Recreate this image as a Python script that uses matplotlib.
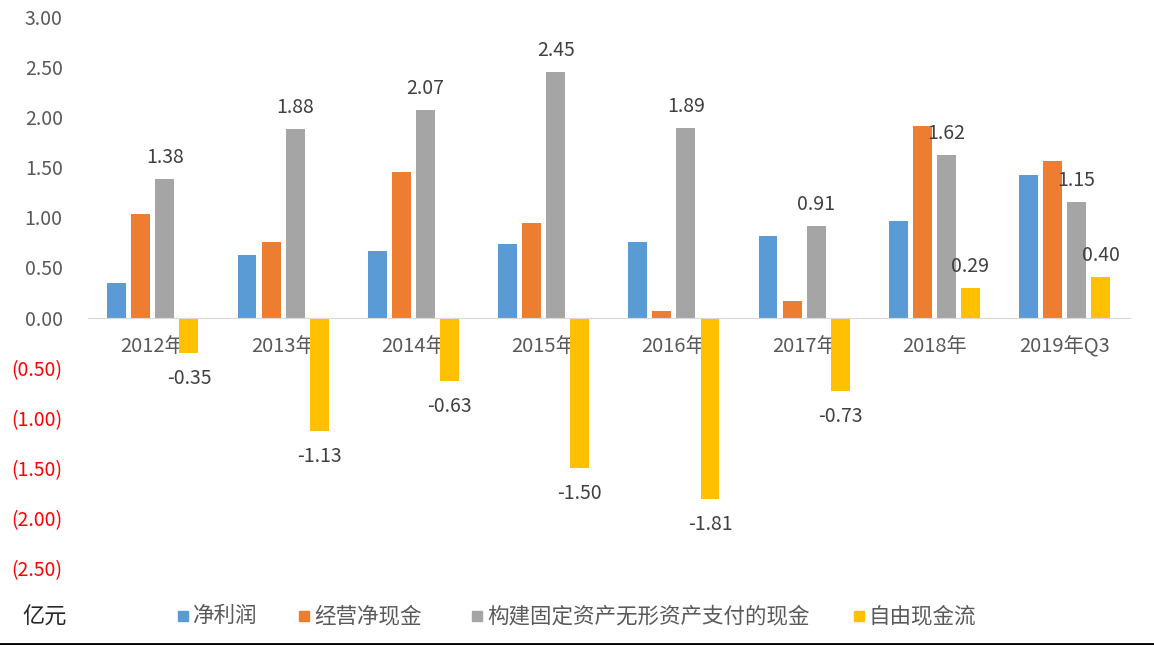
import numpy as np
import matplotlib.pyplot as plt
from matplotlib.lines import Line2D
from matplotlib.ticker import FuncFormatter

plt.rcParams['font.family'] = ['Noto Sans CJK SC', 'DejaVu Sans']

# chart data (亿元)
categories = ['2012年', '2013年', '2014年', '2015年', '2016年', '2017年', '2018年', '2019年Q3']
series_names = ['净利润', '经营净现金', '构建固定资产无形资产支付的现金', '自由现金流']
net_profit = [0.34, 0.62, 0.66, 0.73, 0.75, 0.81, 0.96, 1.42]
op_cash = [1.03, 0.75, 1.45, 0.94, 0.07, 0.17, 1.91, 1.56]
capex = [1.38, 1.88, 2.07, 2.45, 1.89, 0.91, 1.62, 1.15]
free_cash = [-0.35, -1.13, -0.63, -1.50, -1.81, -0.73, 0.29, 0.40]
y_ticks = [3.0, 2.5, 2.0, 1.5, 1.0, 0.5, 0.0, -0.5, -1.0, -1.5, -2.0, -2.5]

colors = ['#5B9BD5', '#ED7D31', '#A5A5A5', '#FFC000']
text_gray = '#595959'

fig = plt.figure(figsize=(11.54, 6.45), dpi=100)
ax = fig.add_axes([0.076, 0.119, 0.903, 0.855])

x = np.arange(len(categories))
width = 0.145
offsets = [-0.277, -0.092, 0.092, 0.277]
all_series = [net_profit, op_cash, capex, free_cash]

for vals, off, col, name in zip(all_series, offsets, colors, series_names):
    ax.bar(x + off, vals, width, color=col, label=name, zorder=3)

# data labels only on capex and free cash flow
for vals, off in [(capex, offsets[2]), (free_cash, offsets[3])]:
    for xi, v in zip(x, vals):
        if v >= 0:
            ax.annotate(f'{v:.2f}', xy=(xi + off, v), xytext=(0, 8),
                        textcoords='offset points', ha='center', va='bottom',
                        fontsize=14, color='#404040')
        else:
            ax.annotate(f'{v:.2f}', xy=(xi + off, v), xytext=(0, -11),
                        textcoords='offset points', ha='center', va='top',
                        fontsize=14, color='#404040')

ax.set_xlim(-0.5, len(categories) - 0.5)
ax.set_ylim(-2.5, 3.0)
ax.set_yticks(y_ticks)


def fmt(v, pos):
    if v < 0:
        return f'({abs(v):.2f})'
    return f'{v:.2f}'


ax.yaxis.set_major_formatter(FuncFormatter(fmt))
for lbl, v in zip(ax.get_yticklabels(), y_ticks):
    lbl.set_color('#FF0000' if v < 0 else text_gray)
ax.tick_params(axis='y', length=0, labelsize=14, pad=18)

ax.set_xticks(x)
ax.set_xticklabels(categories)
ax.tick_params(axis='x', length=0, labelsize=14.5, labelcolor=text_gray, pad=13)
ax.spines['bottom'].set_position(('data', 0))
ax.spines['bottom'].set_color('#D9D9D9')
ax.spines['bottom'].set_zorder(4)
for s in ['left', 'right', 'top']:
    ax.spines[s].set_visible(False)

fig.text(0.019, 0.043, '亿元', fontsize=16, color='#262626', va='center')

# legend items laid out like the original
W = 1154.0
legend_x = [178, 299, 472, 854]
legend_y = 0.045
for px, name, col in zip(legend_x, series_names, colors):
    fig.add_artist(Line2D([(px + 4.5) / W], [legend_y], marker='s', markersize=7,
                          markerfacecolor=col, markeredgecolor=col,
                          transform=fig.transFigure))
    fig.text((px + 15) / W, legend_y, name, fontsize=15.5, color=text_gray,
             va='center', ha='left')

fig.add_artist(Line2D([0, 1], [0.002, 0.002], color='black', lw=2,
                      transform=fig.transFigure))

fig.savefig('out.png', dpi=100)
